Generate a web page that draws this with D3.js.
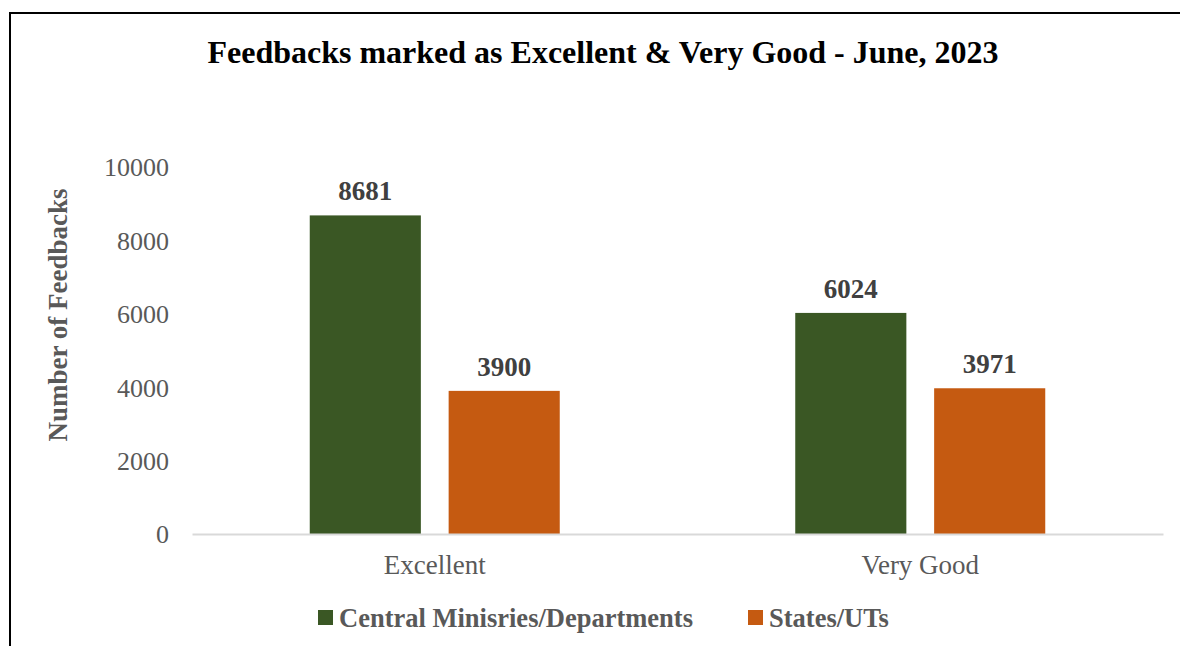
<!DOCTYPE html>
<html>
<head>
<meta charset="utf-8">
<script src="https://cdn.jsdelivr.net/npm/d3@7"></script>
<style>
  html, body { margin: 0; padding: 0; background: #fff; }
  svg { display: block; }
</style>
</head>
<body>
<svg id="chart" width="1180" height="646"></svg>
<script>
// Feedback counts per rating, split by respondent group
const categories = ["Excellent", "Very Good"];
const seriesNames = ["Central Minisries/Departments", "States/UTs"];
const centralValues = [8681, 6024];
const stateValues = [3900, 3971];
const yTicks = [0, 2000, 4000, 6000, 8000, 10000];

const colors = ["#3a5724", "#c55a11"];
const serif = "'Liberation Serif', 'Times New Roman', serif";

const svg = d3.select("#chart");
const W = 1180, H = 646;

// outer frame (top and left edges visible)
svg.append("path")
  .attr("d", `M10,${H} L10,13 L${W},13`)
  .attr("fill", "none")
  .attr("stroke", "#000")
  .attr("stroke-width", 2);

const plot = { left: 192, right: 1163, top: 167, bottom: 534 };

const x0 = d3.scaleBand().domain(categories).range([plot.left, plot.right]).padding(0);
const x1 = d3.scaleBand().domain(seriesNames).range([0, 250]).paddingInner(0.2);
const y = d3.scaleLinear().domain([0, 10000]).range([plot.bottom, plot.top]);

// title
svg.append("text")
  .attr("x", 603).attr("y", 63)
  .attr("text-anchor", "middle")
  .attr("font-family", serif)
  .attr("font-weight", "bold")
  .attr("font-size", 32)
  .attr("fill", "#000")
  .text("Feedbacks marked as Excellent & Very Good - June, 2023");

// y axis tick labels
const yAxis = d3.axisLeft(y).tickValues(yTicks).tickSize(0).tickPadding(0).tickFormat(d3.format("d"));
const gy = svg.append("g").attr("transform", `translate(169,0)`).call(yAxis);
gy.select(".domain").remove();
gy.selectAll("text")
  .attr("font-family", serif)
  .attr("font-size", 26)
  .attr("fill", "#595959")
  .attr("dy", "0.34em");

// y axis title
svg.append("text")
  .attr("transform", `translate(67,315) rotate(-90)`)
  .attr("text-anchor", "middle")
  .attr("font-family", serif)
  .attr("font-weight", "bold")
  .attr("font-size", 27)
  .attr("fill", "#595959")
  .text("Number of Feedbacks");

// bars
const rows = categories.map((c, i) => ({
  cat: c,
  vals: [
    { name: seriesNames[0], v: centralValues[i], color: colors[0] },
    { name: seriesNames[1], v: stateValues[i], color: colors[1] }
  ]
}));

const groupOffset = (x0.bandwidth() - 250) / 2;
const groups = svg.append("g").selectAll("g").data(rows).join("g")
  .attr("transform", d => `translate(${x0(d.cat) + groupOffset},0)`);

groups.selectAll("rect").data(d => d.vals).join("rect")
  .attr("x", d => x1(d.name))
  .attr("y", d => y(d.v))
  .attr("width", x1.bandwidth())
  .attr("height", d => y(0) - y(d.v))
  .attr("fill", d => d.color);

groups.selectAll("text.val").data(d => d.vals).join("text")
  .attr("class", "val")
  .attr("x", d => x1(d.name) + x1.bandwidth() / 2)
  .attr("y", d => y(d.v) - 15)
  .attr("text-anchor", "middle")
  .attr("font-family", serif)
  .attr("font-weight", "bold")
  .attr("font-size", 27)
  .attr("fill", "#404040")
  .text(d => d.v);

// x axis line and category labels
const xAxis = d3.axisBottom(x0).tickSize(0).tickPadding(0);
const gx = svg.append("g").attr("transform", `translate(0,${plot.bottom})`).call(xAxis);
gx.select(".domain").attr("stroke", "#d9d9d9").attr("stroke-width", 2);
gx.selectAll("text")
  .attr("font-family", serif)
  .attr("font-size", 27)
  .attr("fill", "#595959")
  .attr("dy", "1.48em");

// legend
const legendItems = [
  { name: seriesNames[0], color: colors[0], x: 318 },
  { name: seriesNames[1], color: colors[1], x: 748 }
];
const lg = svg.append("g").selectAll("g").data(legendItems).join("g")
  .attr("transform", d => `translate(${d.x},610)`);
lg.append("rect").attr("width", 15).attr("height", 15).attr("fill", d => d.color);
lg.append("text")
  .attr("x", 21).attr("y", 17)
  .attr("font-family", serif)
  .attr("font-weight", "bold")
  .attr("font-size", 26.5)
  .attr("fill", "#595959")
  .text(d => d.name);
</script>
</body>
</html>
